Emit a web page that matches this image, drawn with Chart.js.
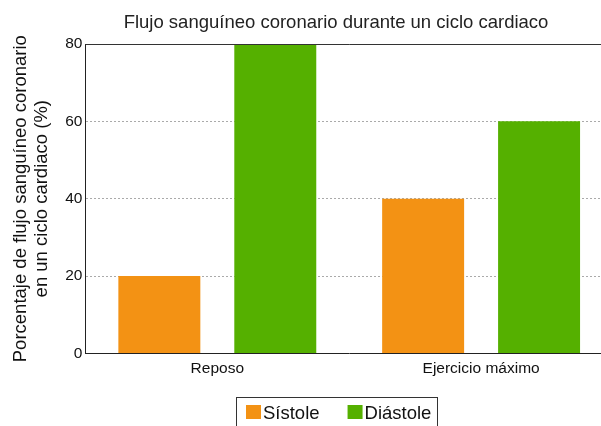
<!DOCTYPE html>
<html>
<head>
<meta charset="utf-8">
<script src="https://cdn.jsdelivr.net/npm/chart.js@4"></script>
<style>
  html, body { margin: 0; padding: 0; background: #fff; overflow: hidden; }
  #wrap { width: 601px; height: 426px; position: relative; overflow: hidden; }
</style>
</head>
<body>
<div id="wrap"><canvas id="myChart" width="613" height="426"></canvas></div>
<script>
const categories = ["Reposo", "Ejercicio máximo"];
const sistole = [20, 40];
const diastole = [80, 60];
const seriesNames = ["Sístole", "Diástole"];
const yTicks = [0, 20, 40, 60, 80];

const FONT = "'Liberation Sans', Arial, Helvetica, sans-serif";

// title, top frame line and boxed legend
const extras = {
  id: "extras",
  afterDraw(chart) {
    const ctx = chart.ctx;
    const area = chart.chartArea;
    ctx.save();
    // top line
    ctx.strokeStyle = "#333";
    ctx.lineWidth = 1;
    ctx.beginPath();
    ctx.moveTo(area.left, area.top + 0.5);
    ctx.lineTo(area.right, area.top + 0.5);
    ctx.stroke();

    // title
    ctx.fillStyle = "#222";
    ctx.font = "18.5px " + FONT;
    ctx.textAlign = "center";
    ctx.textBaseline = "alphabetic";
    ctx.fillText("Flujo sanguíneo coronario durante un ciclo cardiaco", 336, 28);

    // legend
    ctx.font = "18.5px " + FONT;
    ctx.textAlign = "left";
    let x = 246;
    chart.data.datasets.forEach((ds, i) => {
      ctx.fillStyle = ds.backgroundColor;
      ctx.fillRect(x, 405, 15, 14);
      x += 17;
      ctx.fillStyle = "#111";
      ctx.fillText(ds.label, x, 419);
      x += ctx.measureText(ds.label).width;
      if (i < chart.data.datasets.length - 1) x += 28;
    });
    ctx.strokeStyle = "#333";
    ctx.strokeRect(236.5, 397.5, Math.round(x + 6 - 236), 40);
    ctx.restore();
  }
};

const data = {
  labels: categories,
  datasets: [
    {
      label: seriesNames[0],
      data: sistole,
      backgroundColor: "#f39214",
      borderWidth: 0,
    },
    {
      label: seriesNames[1],
      data: diastole,
      backgroundColor: "#55b000",
      borderWidth: 0,
    },
  ],
};

const config = {
  type: "bar",
  data: data,
  plugins: [extras],
  options: {
    responsive: false,
    animation: false,
    categoryPercentage: 0.879,
    barPercentage: 0.707,
    layout: {
      padding: { top: 44, right: 0, bottom: 42, left: 0 }
    },
    plugins: {
      title: { display: false },
      legend: { display: false },
      tooltip: { enabled: false }
    },
    scales: {
      y: {
        min: 0,
        max: 80,
        afterBuildTicks: (axis) => { axis.ticks = yTicks.map(v => ({ value: v })); },
        ticks: {
          color: "#111",
          font: { family: FONT, size: 15.5 },
          padding: 3
        },
        grid: {
          color: (c) => c.tick && c.tick.value === 80 ? "rgba(0,0,0,0)" : "#aaa",
          lineWidth: 1,
          drawTicks: false
        },
        border: { display: true, color: "#222", width: 1, dash: [2, 2] },
        title: {
          display: true,
          text: ["Porcentaje de flujo sanguíneo coronario", "en un ciclo cardiaco (%)"],
          color: "#111",
          font: { family: FONT, size: 18.5, lineHeight: 1.14 },
          padding: { top: 10, bottom: 10 }
        }
      },
      x: {
        ticks: {
          color: "#111",
          font: { family: FONT, size: 15.5 },
          padding: 6
        },
        grid: { display: false, drawTicks: false },
        border: { display: true, color: "#222", width: 1 }
      }
    },
  },
};

const myChart = new Chart(document.getElementById("myChart"), config);
</script>
</body>
</html>
